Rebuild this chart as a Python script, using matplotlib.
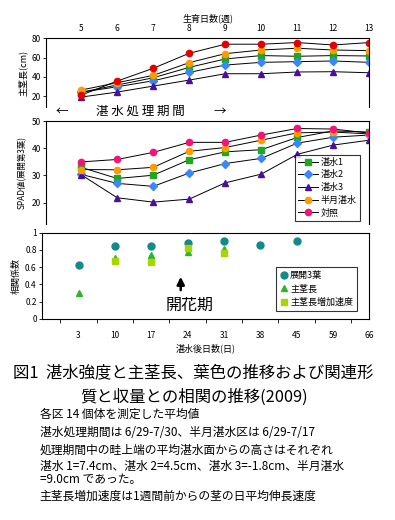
import matplotlib
matplotlib.use('Agg')
import matplotlib.pyplot as plt
import numpy as np

plt.rcParams['font.family'] = ['Noto Sans CJK JP', 'DejaVu Sans']

# ---- data ----
weeks = [5, 6, 7, 8, 9, 10, 11, 12, 13]
days = [3, 10, 17, 24, 31, 38, 45, 59, 66]
treat_names = ['湛水1', '湛水2', '湛水3', '半月湛水', '対照']

# main stem length (cm)
stem_t1 = [24, 31.5, 39, 49.8, 58.5, 62, 61.3, 62, 61.6]
stem_t2 = [24, 29.7, 35.9, 44.6, 52.2, 55, 55.7, 56.4, 55]
stem_t3 = [19, 24.2, 30.4, 36.6, 43.2, 43.2, 45, 45.3, 44.2]
stem_half = [26.3, 33.9, 41.5, 54.7, 64, 67.8, 69.6, 67.8, 67.1]
stem_ctrl = [21, 35.6, 48.8, 64.4, 73.8, 73.8, 75.5, 73, 75.5]

# SPAD
spad_t1 = [33, 28.9, 30.1, 35.8, 38.7, 39.5, 44, 46.4, 46]
spad_t2 = [30.4, 27.1, 26, 30.9, 34.4, 36.3, 41.9, 44.1, 44.9]
spad_t3 = [30.3, 21.8, 20.2, 21.3, 27.3, 30.5, 37.8, 41.2, 43]
spad_half = [32.2, 32.1, 33, 38.9, 40.3, 43, 45.7, 46, 45.3]
spad_ctrl = [35, 35.9, 38.5, 42.2, 42.2, 44.9, 47.3, 47.1, 45.6]

# correlation coefficients
corr_leaf = [0.62, 0.845, 0.845, 0.88, 0.90, 0.857, 0.90]
corr_leaf_x = [3, 10, 17, 24, 31, 38, 45]
corr_stem = [0.30, 0.705, 0.744, 0.78, 0.81]
corr_stem_x = [3, 10, 17, 24, 31]
corr_rate = [0.675, 0.66, 0.82, 0.765]
corr_rate_x = [10, 17, 24, 31]

colors = ['#1fa81f', '#3a86ff', '#4a0fa0', '#ff9a00', '#e00000']
markers = ['s', 'D', '^', 'o', 'o']

fig = plt.figure(figsize=(3.95, 5.2), dpi=100)
L, W = 0.117, 0.818
xs = np.arange(len(weeks))

def tidy(ax):
    ax.tick_params(axis='y', labelsize=6, length=2, width=0.6, pad=2)
    for s in ax.spines.values():
        s.set_linewidth(0.8)
    ax.set_xlim(-0.97, 8)

# --- top: stem length ---
ax1 = fig.add_axes([L, 0.794, W, 0.1325])
stems = [stem_t1, stem_t2, stem_t3, stem_half, stem_ctrl]
for vals, c, m in zip(stems, colors, markers):
    ax1.plot(xs, vals, color='black', lw=0.7, zorder=1)
    ax1.plot(xs, vals, ls='none', marker=m, color=c, ms=4.5, zorder=2)
ax1.set_ylim(8.6, 80)
ax1.set_yticks([20, 40, 60, 80])
ax1.spines['bottom'].set_visible(False)
ax1.xaxis.tick_top()
ax1.set_xticks(xs)
ax1.set_xticklabels(weeks)
ax1.tick_params(axis='x', length=0, labelsize=6, pad=4)
ax1.xaxis.set_label_position('top')
ax1.set_xlabel('生育日数(週)', fontsize=6.5, labelpad=2)
ax1.set_ylabel('主茎長(cm)', fontsize=6.5, labelpad=3)
tidy(ax1)

# arrow text between panels
fig.text(0.157, 0.786, '←', fontsize=9, ha='center', va='center')
fig.text(0.356, 0.786, '湛 水 処 理 期 間', fontsize=9, ha='center', va='center')
fig.text(0.557, 0.786, '→', fontsize=9, ha='center', va='center')

# --- middle: SPAD ---
ax2 = fig.add_axes([L, 0.569, W, 0.198])
spads = [spad_t1, spad_t2, spad_t3, spad_half, spad_ctrl]
mid_colors = colors[:4] + ['#f0147c']
for vals, c, m, name in zip(spads, mid_colors, markers, treat_names):
    ax2.plot(xs, vals, color='black', lw=0.7, marker=m, mfc=c, mec=c,
             ms=4.5, label=name)
ax2.set_ylim(12.1, 50)
ax2.set_yticks([20, 30, 40, 50])
ax2.set_xticks([])
ax2.spines['bottom'].set_visible(False)
ax2.set_ylabel('SPAD値(展開第3葉)', fontsize=6, labelpad=3)
tidy(ax2)
leg2 = ax2.legend(loc='lower right', bbox_to_anchor=(0.985, -0.01), fontsize=6.5,
                  frameon=True, fancybox=False, edgecolor='black',
                  handlelength=2.2, handletextpad=0.3, labelspacing=0.4,
                  borderpad=0.35)
leg2.get_frame().set_linewidth(0.8)

# --- bottom: correlation ---
ax3 = fig.add_axes([L - 0.01, 0.387, W + 0.01, 0.1655])
pos = {d: i for i, d in enumerate(days)}
ax3.plot([pos[d] for d in corr_leaf_x], corr_leaf, ls='none', marker='o',
         color='#138a8a', ms=5, label='展開3葉')
ax3.plot([pos[d] for d in corr_stem_x], corr_stem, ls='none', marker='^',
         color='#2db52d', ms=5, label='主茎長')
ax3.plot([pos[d] for d in corr_rate_x], corr_rate, ls='none', marker='s',
         color='#a8d400', ms=5, label='主茎長増加速度')
ax3.set_ylim(0, 1)
ax3.set_yticks([0, 0.2, 0.4, 0.6, 0.8, 1])
ax3.set_yticklabels(['0', '0.2', '0.4', '0.6', '0.8', '1'])
ax3.set_xlim(-1, 8)
ax3.set_xticks(np.arange(-0.5, 8, 1))
ax3.set_xticklabels([])
ax3.set_xticks(xs, minor=True)
ax3.set_xticklabels(days, minor=True)
ax3.tick_params(axis='x', which='major', length=3, width=0.6)
ax3.tick_params(axis='x', which='minor', length=0, labelsize=6, pad=9)
ax3.tick_params(axis='y', labelsize=6, length=2, width=0.6, pad=2)
for s in ax3.spines.values():
    s.set_linewidth(0.8)
ax3.set_xlabel('湛水後日数(日)', fontsize=6.5, labelpad=2)
ax3.set_ylabel('相関係数', fontsize=6.5, labelpad=3)
ax3.annotate('', xy=(2.81, 0.52), xytext=(2.81, 0.30),
             arrowprops=dict(arrowstyle='-|>', color='black', lw=1.8,
                             mutation_scale=11))
ax3.text(3.05, 0.155, '開花期', fontsize=11.5, ha='center', va='center')
leg3 = ax3.legend(loc='lower right', bbox_to_anchor=(0.975, 0.04), fontsize=6.5,
                  frameon=True, fancybox=False, edgecolor='black',
                  handlelength=0.8, handletextpad=0.3, labelspacing=0.5,
                  borderpad=0.4)
leg3.get_frame().set_linewidth(0.8)

# --- caption ---
fig.text(0.032, 0.283, '図1  湛水強度と主茎長、葉色の推移および関連形', fontsize=11.8,
         ha='left', va='center')
fig.text(0.49, 0.237, '質と収量との相関の推移(2009)', fontsize=11.8,
         ha='center', va='center')
notes = ['各区 14 個体を測定した平均値',
         '湛水処理期間は 6/29-7/30、半月湛水区は 6/29-7/17',
         '処理期間中の畦上端の平均湛水面からの高さはそれぞれ',
         '湛水 1=7.4cm、湛水 2=4.5cm、湛水 3=-1.8cm、半月湛水',
         '=9.0cm であった。',
         '主茎長増加速度は1週間前からの茎の日平均伸長速度']
note_y = [414, 432.3, 450, 466.5, 479.5, 496]
for t, y in zip(notes, note_y):
    fig.text(0.1, 1 - y / 520, t, fontsize=8.5, ha='left', va='center')

fig.savefig('out.png', dpi=100)
